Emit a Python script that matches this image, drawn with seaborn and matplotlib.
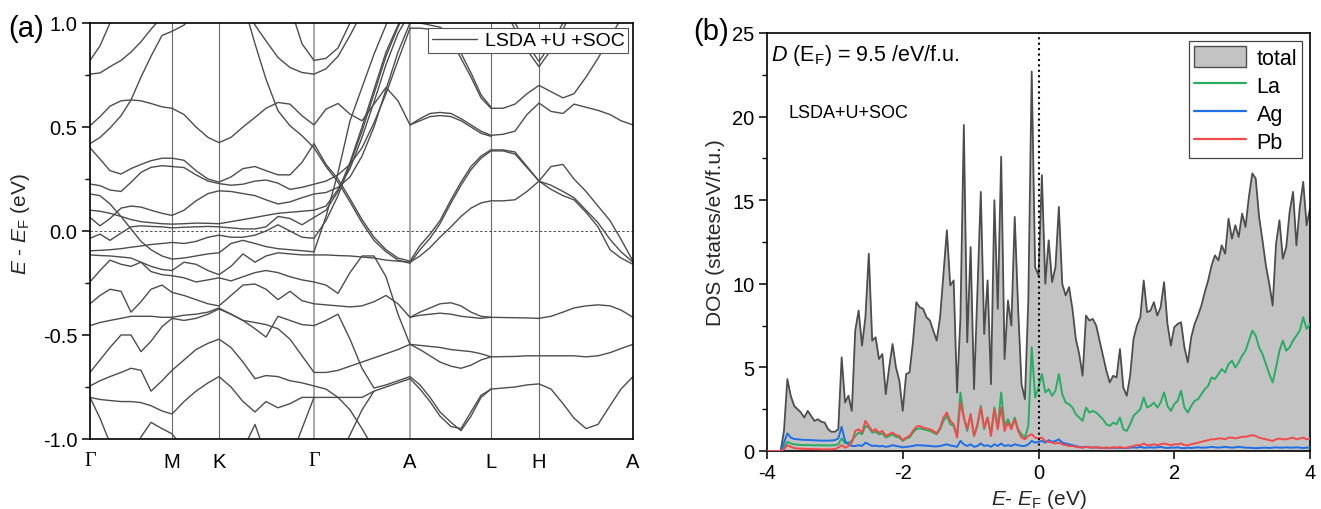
import numpy as np
import pandas as pd
import matplotlib
matplotlib.use("Agg")
import matplotlib.pyplot as plt
import seaborn as sns
from matplotlib.lines import Line2D
from matplotlib.patches import Patch
from matplotlib.ticker import MultipleLocator, FormatStrFormatter

N = float("nan")

# ---------------- panel (a): band structure ----------------
kpath = [0, 10, 20, 31, 41, 51, 61, 72, 82,
         94, 106, 118, 129,
         141, 153, 165, 176, 188, 200, 212, 224,
         236, 248, 260, 272, 284, 296, 308, 320,
         330, 340, 350, 361, 371, 381, 391, 401,
         413, 425, 437, 449,
         461, 473, 484, 496, 508, 520, 531, 543]
kpt_pos = [0, 82, 129, 224, 320, 401, 449, 543]
kpt_labels = ["Γ", "M", "K", "Γ", "A", "L", "H", "A"]
N4, N8, N9 = [N] * 4, [N] * 8, [N] * 9


def path(gm, mk, kg, ga, al, lh, ha):
    parts = [gm, mk, kg, ga, al, lh, ha]
    for p, s in zip(parts, [9, 4, 8, 8, 8, 4, 8]):
        assert len(p) == s, (p, s)
    return gm + mk + kg + ga + al + lh + ha


b01 = path([0.82, 0.89, 1.0, 1.12, 1.2, 1.2, 1.2, 1.2, 1.2], [1.2, 1.2, 1.2, 1.2],
           [1.2, 1.2, 1.2, 1.2, 1.2, 1.08, 0.90, 0.82], [0.83, 0.88, 1.0, 1.12, 1.2, N, N, N], N8, N4, N8)
b02 = path([0.754, 0.76, 0.79, 0.82, 0.86, 0.91, 0.97, 1.03, 1.08], [1.15, 1.2, 1.2, 1.2],
           [1.2, 1.1, 0.99, 0.914, 0.834, 0.786, 0.762, 0.754], [0.78, 0.84, 0.94, 1.05, 1.2, N, N, N], N8, N4, N8)
b03 = path([0.506, 0.55, 0.60, 0.626, 0.63, 0.626, 0.613, 0.597, 0.59], [0.56, 0.50, 0.45, 0.425],
           [0.45, 0.50, 0.546, 0.59, 0.618, 0.61, 0.554, 0.51], [0.586, 0.613, 0.562, 0.53, 0.61, 0.69, 0.626, 0.51],
           [0.54, 0.565, 0.57, 0.565, 0.54, 0.51, 0.48, 0.46], [0.465, 0.48, 0.56, 0.615],
           [0.575, 0.565, 0.61, 0.595, 0.58, 0.56, 0.53, 0.51])
b04 = path([0.42, 0.45, 0.495, 0.554, 0.63, 0.74, 0.84, 0.94, 0.96], [0.99, 1.05, 1.1, 1.15],
           [1.2, 1.1, 0.90, 0.73, 0.578, 0.506, 0.458, 0.40], [0.31, 0.235, 0.14, 0.04, -0.045, -0.10, -0.14, -0.155],
           [-0.09, -0.035, 0.035, 0.135, 0.22, 0.295, 0.35, 0.385], [0.385, 0.37, 0.305, 0.24],
           [0.20, 0.17, 0.15, 0.09, 0.02, -0.09, -0.13, -0.16])
b05 = path([0.40, 0.346, 0.29, 0.274, 0.30, 0.32, 0.338, 0.35, 0.35], [0.34, 0.29, 0.25, 0.235],
           [0.26, 0.30, 0.31, 0.29, 0.27, 0.27, 0.33, 0.42], [0.32, 0.25, 0.155, 0.055, -0.03, -0.09, -0.13, -0.145],
           [-0.07, -0.015, 0.05, 0.15, 0.235, 0.31, 0.36, 0.39], [0.39, 0.38, 0.31, 0.24],
           [0.31, 0.32, 0.25, 0.19, 0.12, 0.05, -0.04, -0.145])
b06 = path([0.226, 0.218, 0.197, 0.19, 0.234, 0.282, 0.306, 0.314, 0.31], [0.305, 0.27, 0.24, 0.228],
           [0.22, 0.225, 0.24, 0.245, 0.23, 0.20, 0.21, 0.225], [0.24, 0.27, 0.32, 0.40, 0.52, 0.66, 0.82, 0.975],
           [0.975, 0.97, 0.96, 0.92, 0.83, 0.74, 0.64, 0.59], [0.59, 0.61, 0.66, 0.70],
           [0.67, 0.64, 0.66, 0.74, 0.83, 0.93, 1.02, 1.1])
b07 = path([0.065, 0.025, 0.06, 0.11, 0.12, 0.115, 0.10, 0.085, 0.075], [0.10, 0.145, 0.18, 0.193],
           [0.19, 0.18, 0.17, 0.15, 0.13, 0.14, 0.16, 0.178], [0.185, 0.21, 0.26, 0.36, 0.50, 0.68, 0.86, 1.0],
           [1.0, 0.99, 0.98, 0.945, 0.855, 0.76, 0.655, 0.595], N4, N8)
b08 = path([0.178, 0.17, 0.13, 0.07, 0.01, -0.05, -0.09, -0.12, -0.135], [-0.13, -0.12, -0.11, -0.105],
           [-0.06, -0.045, -0.06, -0.075, -0.085, -0.09, -0.095, -0.10], [0.07, 0.28, 0.53, 0.69, 0.85, 0.99, 1.12, 1.2],
           N8, N4, N8)
b09 = path([0.10, 0.095, 0.085, 0.07, 0.055, 0.045, 0.04, 0.035, 0.033], [0.035, 0.038, 0.037, 0.035],
           [0.045, 0.055, 0.065, 0.075, 0.085, 0.09, 0.095, 0.10], [0.12, 0.20, 0.30, 0.45, 0.62, 0.80, 0.95, 1.05],
           N8, N4, N8)
b10 = path([-0.035, -0.015, -0.045, -0.01, 0.02, 0.025, 0.022, 0.02, 0.015], [0.018, 0.02, 0.022, 0.02],
           [0.015, 0.01, 0.01, 0.02, 0.07, 0.06, 0.03, 0.065], [0.10, 0.19, 0.33, 0.50, 0.68, 0.86, 0.99, 1.1],
           N8, N4, N8)
b11 = path([-0.095, -0.093, -0.09, -0.085, -0.078, -0.072, -0.065, -0.06, -0.055], [-0.06, -0.05, -0.03, -0.02],
           [-0.03, -0.03, -0.02, 0.0, 0.03, 0.0, -0.03, -0.035], [0.05, 0.17, 0.32, 0.48, 0.66, 0.84, 0.98, 1.1],
           N8, N4, N8)
b12 = path([-0.115, -0.118, -0.12, -0.125, -0.13, -0.15, -0.17, -0.185, -0.19], [-0.15, -0.16, -0.19, -0.21],
           [-0.17, -0.11, -0.15, -0.12, -0.105, -0.11, -0.115, -0.115],
           [-0.115, -0.118, -0.12, -0.125, -0.13, -0.14, -0.145, -0.15],
           [-0.12, -0.08, -0.03, 0.02, 0.07, 0.11, 0.135, 0.145], [0.145, 0.15, 0.19, 0.24],
           [0.22, 0.19, 0.16, 0.10, 0.04, -0.04, -0.10, -0.15])
b13 = path([-0.245, -0.19, -0.14, -0.16, -0.17, -0.15, -0.195, -0.21, -0.215], [-0.225, -0.245, -0.235, -0.225],
           [-0.24, -0.22, -0.20, -0.19, -0.20, -0.22, -0.235, -0.245],
           [-0.26, -0.30, -0.20, -0.12, -0.12, -0.22, -0.40, -0.545],
           [-0.55, -0.555, -0.56, -0.57, -0.575, -0.58, -0.59, -0.605], [-0.604, -0.603, -0.60, -0.60],
           [-0.60, -0.60, -0.60, -0.605, -0.60, -0.585, -0.565, -0.545])
b14 = path([-0.35, -0.31, -0.28, -0.29, -0.39, -0.34, -0.28, -0.26, -0.295], [-0.31, -0.33, -0.35, -0.36],
           [-0.31, -0.26, -0.255, -0.28, -0.33, -0.29, -0.335, -0.35],
           [-0.355, -0.36, -0.365, -0.36, -0.34, -0.31, -0.35, -0.415],
           [-0.39, -0.37, -0.35, -0.345, -0.36, -0.39, -0.41, -0.415], [-0.416, -0.417, -0.418, -0.42],
           [-0.41, -0.39, -0.37, -0.36, -0.355, -0.36, -0.38, -0.415])
b15 = path([-0.455, -0.44, -0.43, -0.42, -0.41, -0.41, -0.41, -0.415, -0.415], [-0.405, -0.40, -0.39, -0.37],
           [-0.40, -0.43, -0.47, -0.51, -0.41, -0.43, -0.45, -0.455],
           [-0.43, -0.40, -0.52, -0.66, -0.755, -0.74, -0.72, -0.70],
           [-0.74, -0.80, -0.87, -0.92, -0.96, -0.89, -0.80, -0.76], [-0.755, -0.75, -0.74, -0.735],
           [-0.76, -0.83, -0.90, -0.95, -0.93, -0.84, -0.76, -0.70])
b16 = path([-0.68, -0.62, -0.56, -0.50, -0.50, -0.58, -0.53, -0.46, -0.42], [-0.43, -0.42, -0.40, -0.375],
           [-0.40, -0.43, -0.44, -0.45, -0.47, -0.52, -0.60, -0.68],
           [-0.68, -0.67, -0.65, -0.63, -0.61, -0.59, -0.57, -0.545],
           [-0.57, -0.60, -0.63, -0.65, -0.66, -0.645, -0.62, -0.605], N4, N8)
b17 = path([-0.745, -0.72, -0.70, -0.68, -0.66, -0.67, -0.77, -0.72, -0.67], [-0.62, -0.57, -0.54, -0.52],
           [-0.56, -0.63, -0.71, -0.695, -0.70, -0.72, -0.73, -0.745],
           [-0.76, -0.80, -0.86, -0.95, -1.05, -1.2, N, N], N8, N4, N8)
b18 = path([-0.80, -0.81, -0.815, -0.82, -0.82, -0.825, -0.84, -0.865, -0.88], [-0.82, -0.77, -0.73, -0.70],
           [-0.75, -0.82, -0.87, -0.82, -0.85, -0.83, -0.80, -0.80],
           [-0.80, -0.80, -0.80, -0.80, -0.77, -0.75, -0.73, -0.71],
           [-0.76, -0.82, -0.89, -0.94, -0.95, -0.87, -0.79, -0.76], N4, N8)
b19 = path([-0.80, -0.90, -1.02, -1.2, N, N, N, N, N], N4, N8, N8, N8, N4, N8)
b20 = path([N, N, N, N, -1.1, -0.99, -0.92, -0.95, -0.975], [-1.05, -1.15, N, N], N8, N8, N8, N4, N8)
b21 = path(N9, N4, [-1.2, -1.05, -0.93, -1.08, -1.2, N, N, N], N8, N8, N4, N8)
b22 = path(N9, N4, [N, N, N, N, -1.2, -1.1, -0.95, -0.80], N8, N8, N4, N8)
b23 = path(N9, N4, N8, [N, -1.1, -0.98, -0.86, -0.77, N, N, N], N8, N4, N8)
b24 = path(N9, N4, N8, [N, N, N, N, N, N, N, 0.51],
           [0.53, 0.55, 0.555, 0.55, 0.53, 0.50, 0.47, 0.455], N4, N8)
b25 = path(N9, N4, N8, [N, N, N, N, N, N, N, -0.415],
           [-0.405, -0.40, -0.395, -0.40, -0.41, -0.415, -0.42, -0.415], N4, N8)
b26 = path(N9, N4, N8, N8, N8, [1.08, 0.97, 0.87, 0.79], [0.87, 0.97, 1.08, N, N, N, N, N])
b27 = path(N9, N4, N8, N8, N8, [1.12, 1.0, 0.90, 0.815], [0.90, 1.0, 1.12, N, N, N, N, N])

bands = [b01, b02, b03, b04, b05, b06, b07, b08, b09, b10, b11, b12, b13, b14,
         b15, b16, b17, b18, b19, b20, b21, b22, b23, b24, b25, b26, b27]

# ---------------- panel (b): DOS ----------------
dos_total = [0, 0, 0, 0, 0, 1.2, 4.3, 3.3, 2.7, 2.5,
             2.3, 2.0, 2.4, 2.1, 1.8, 1.9, 1.75, 1.7, 1.3, 1.15,
             1.15, 1.3, 5.6, 2.9, 3.3, 2.4, 7.2, 8.4, 6.3, 8.0,
             11.8, 6.6, 6.8, 5.5, 5.8, 3.4, 5.0, 6.4, 5.0, 4.2,
             2.4, 4.6, 4.7, 6.5, 8.9, 8.6, 8.5, 8.0, 7.8, 7.2,
             6.6, 8.0, 10.6, 13.2, 9.9, 10.2, 3.5, 8.0, 19.5, 6.5,
             12.2, 3.7, 9.5, 15.5, 7.0, 10.2, 4.0, 15.0, 8.5, 17.6,
             5.5, 9.0, 7.5, 14.0, 8.5, 4.0, 3.1, 9.0, 22.7, 11.0,
             10.5, 16.5, 10.0, 12.6, 10.1, 11.0, 14.6, 10.0, 9.3, 9.8,
             8.5, 6.7, 5.8, 4.5, 8.1, 7.8, 7.9, 7.5, 6.6, 5.7,
             4.8, 4.1, 4.5, 4.4, 6.1, 3.8, 3.3, 4.5, 6.7, 7.5,
             8.0, 10.2, 8.3, 8.4, 8.9, 8.1, 8.6, 10.1, 7.6, 6.3,
             7.4, 7.6, 7.7, 6.2, 5.3, 6.8, 7.6, 8.1, 8.7, 9.5,
             10.2, 11.1, 11.7, 11.4, 12.3, 11.8, 13.9, 12.7, 13.5, 12.8,
             14.2, 13.4, 15.2, 16.6, 16.3, 14.0, 12.6, 11.1, 10.0, 8.7,
             12.4, 13.8, 11.5, 12.2, 14.3, 15.5, 12.3, 14.6, 16.1, 13.5,
             14.5]
dos_La = [0, 0, 0, 0, 0, 0.25, 0.55, 0.45, 0.4, 0.38,
          0.36, 0.36, 0.35, 0.35, 0.34, 0.35, 0.34, 0.34, 0.33, 0.34,
          0.35, 0.4, 0.75, 0.45, 0.5, 0.6, 0.9, 1.1, 1.0, 1.5,
          1.4, 1.1, 1.15, 1.0, 1.05, 0.8, 0.9, 1.0, 0.85, 0.8,
          0.6, 0.75, 0.8, 1.1, 1.3, 1.35, 1.3, 1.25, 1.2, 1.1,
          1.0, 1.3, 1.8, 2.1, 1.6, 1.5, 0.9, 3.5, 2.0, 1.2,
          2.2, 0.9, 1.5, 2.7, 1.3, 2.0, 1.0, 2.6, 1.4, 3.5,
          1.5, 1.9, 1.4, 2.0, 1.3, 1.0, 0.8, 1.5, 6.2, 3.2,
          3.8, 4.6, 3.5, 3.7, 3.3, 3.6, 4.6, 3.4, 2.9, 2.8,
          2.6, 2.2, 2.0, 1.8, 2.6, 2.3, 2.4, 2.3, 2.1, 1.9,
          1.6, 1.5, 1.7, 1.6, 2.0, 1.3, 1.2, 1.6, 2.1, 2.3,
          2.5, 3.2, 2.6, 2.7, 2.9, 2.6, 2.9, 3.5, 2.7, 2.4,
          2.8, 3.0, 3.6, 2.6, 2.3, 2.7, 3.0, 3.1, 3.4, 3.7,
          3.9, 4.4, 4.3, 4.6, 4.9, 4.7, 5.2, 5.4, 5.0, 5.3,
          5.7, 6.0, 6.6, 7.2, 6.9, 6.2, 5.8, 5.2, 4.6, 4.1,
          5.0, 6.0, 6.6, 6.0, 6.2, 6.6, 6.9, 7.2, 8.0, 7.3,
          7.6]
dos_Ag = [0, 0, 0, 0, 0, 0.5, 1.05, 0.8, 0.72, 0.7,
          0.68, 0.66, 0.66, 0.65, 0.64, 0.63, 0.62, 0.62, 0.62, 0.63,
          0.65, 0.75, 1.45, 0.6, 0.4, 0.3, 0.3, 0.35, 0.3, 0.5,
          0.4, 0.3, 0.32, 0.28, 0.3, 0.25, 0.28, 0.35, 0.3, 0.27,
          0.22, 0.25, 0.27, 0.3, 0.35, 0.34, 0.33, 0.32, 0.3, 0.28,
          0.27, 0.3, 0.35, 0.4, 0.33, 0.3, 0.25, 0.6, 0.4, 0.3,
          0.4, 0.25, 0.3, 0.45, 0.3, 0.35, 0.25, 0.4, 0.3, 0.45,
          0.3, 0.35, 0.3, 0.4, 0.35, 0.3, 0.3, 0.4, 0.6, 0.5,
          0.55, 0.6, 0.5, 0.65, 0.55, 0.6, 0.7, 0.5, 0.45, 0.4,
          0.35, 0.3, 0.25, 0.22, 0.25, 0.22, 0.2, 0.22, 0.2, 0.18,
          0.2, 0.18, 0.2, 0.18, 0.2, 0.17, 0.18, 0.2, 0.22, 0.2,
          0.25, 0.2, 0.2, 0.22, 0.2, 0.22, 0.25, 0.2, 0.18, 0.2,
          0.2, 0.22, 0.18, 0.17, 0.2, 0.18, 0.2, 0.22, 0.2, 0.2,
          0.22, 0.25, 0.22, 0.2, 0.22, 0.25, 0.22, 0.2, 0.22, 0.25,
          0.22, 0.2, 0.2, 0.18, 0.17, 0.18, 0.2, 0.2, 0.18, 0.2,
          0.22, 0.2, 0.2, 0.22, 0.2, 0.2, 0.22, 0.2, 0.18, 0.2,
          0.2]
dos_Pb = [0, 0, 0, 0, 0, 0.1, 0.35, 0.25, 0.18, 0.15,
          0.14, 0.13, 0.12, 0.12, 0.11, 0.11, 0.1, 0.1, 0.1, 0.1,
          0.12, 0.2, 0.35, 0.2, 0.3, 0.5, 1.2, 1.3, 1.1, 1.8,
          1.5, 1.2, 1.3, 1.1, 1.2, 0.9, 1.0, 1.1, 0.95, 0.9,
          0.65, 0.8, 0.9, 1.2, 1.45, 1.5, 1.4, 1.35, 1.3, 1.2,
          1.05, 1.4, 2.0, 2.3, 1.8, 1.6, 0.8, 2.9, 2.0, 1.3,
          2.2, 0.9, 1.6, 2.6, 1.4, 2.0, 0.9, 2.5, 1.3, 2.6,
          1.2, 1.7, 1.3, 1.9, 1.2, 0.8, 0.7, 0.9, 1.0, 0.8,
          0.75, 0.8, 0.6, 0.55, 0.5, 0.45, 0.5, 0.4, 0.35, 0.3,
          0.3, 0.25, 0.22, 0.2, 0.25, 0.22, 0.2, 0.22, 0.2, 0.18,
          0.2, 0.18, 0.22, 0.2, 0.25, 0.18, 0.2, 0.25, 0.3, 0.35,
          0.35, 0.45, 0.35, 0.35, 0.4, 0.35, 0.4, 0.45, 0.4, 0.35,
          0.4, 0.4, 0.45, 0.35, 0.35, 0.4, 0.45, 0.5, 0.55, 0.6,
          0.65, 0.7, 0.7, 0.75, 0.75, 0.7, 0.8, 0.8, 0.75, 0.8,
          0.85, 0.85, 0.9, 0.95, 0.9, 0.8, 0.75, 0.7, 0.65, 0.6,
          0.7, 0.75, 0.7, 0.7, 0.75, 0.8, 0.7, 0.75, 0.8, 0.7,
          0.75]
for s in (dos_La, dos_Ag, dos_Pb):
    assert len(s) == len(dos_total)
energy = np.linspace(-4, 4, len(dos_total))

# ---------------- style ----------------
sns.set_theme(style="ticks")
plt.rcParams.update({
    "font.family": ["Liberation Sans", "DejaVu Sans"],
    "mathtext.fontset": "custom",
    "mathtext.rm": "Liberation Sans",
    "mathtext.it": "Liberation Sans:italic",
    "mathtext.bf": "Liberation Sans:bold",
    "axes.unicode_minus": False,
    "axes.edgecolor": "black",
    "axes.linewidth": 1.2,
    "xtick.color": "black",
    "ytick.color": "black",
    "text.color": "black",
})

fig = plt.figure(figsize=(13.21, 5.10), dpi=100)
W, H = 1321, 510
ax1 = fig.add_axes([90 / W, 1 - 440 / H, (633 - 90) / W, (440 - 24) / H])
ax2 = fig.add_axes([767 / W, 1 - 452 / H, (1310 - 767) / W, (452 - 34) / H])

# --- panel (a)
band_col = "#4d4d4d"
for i, p in enumerate(kpt_pos[1:-1]):
    light = kpt_labels[i + 1] in ("Γ", "A")
    ax1.axvline(p, color="#a0a0a0" if light else "#6a6a6a", lw=1.3 if light else 0.8, zorder=1)
ax1.axhline(0, color="#333333", lw=0.6, ls=(0, (3, 2.5)), zorder=1)

rows = []
for bi, vals in enumerate(bands):
    for k, e in zip(kpath, vals):
        rows.append((bi, k, e))
df = pd.DataFrame(rows, columns=["band", "k", "E"]).dropna()
sns.lineplot(data=df, x="k", y="E", units="band", estimator=None, sort=False,
             color=band_col, linewidth=1.0, ax=ax1, legend=False, zorder=2)

ax1.set_xlim(kpt_pos[0], kpt_pos[-1])
ax1.set_ylim(-1.0, 1.0)
ax1.set_xticks(kpt_pos)
ax1.set_xticklabels(kpt_labels)
for lbl in ax1.get_xticklabels():
    if lbl.get_text() == "Γ":
        lbl.set_fontfamily("Liberation Serif")
ax1.tick_params(axis="x", length=0, pad=9, labelsize=14.5)
ax1.yaxis.set_major_locator(MultipleLocator(0.5))
ax1.yaxis.set_minor_locator(MultipleLocator(0.25))
ax1.yaxis.set_major_formatter(FormatStrFormatter("%.1f"))
ax1.tick_params(axis="y", which="major", direction="out", length=6, width=1.1, pad=3, labelsize=14.5)
ax1.tick_params(axis="y", which="minor", direction="out", length=3.5, width=1.0)
ax1.set_xlabel("")
ax1.set_ylabel(r"$E$ - $E_\mathrm{F}$ (eV)", fontsize=15)
ax1.yaxis.set_label_coords(-0.106, 0.52)
leg1 = ax1.legend(handles=[Line2D([0], [0], color=band_col, lw=1.0)], labels=["LSDA +U +SOC"],
                  loc="upper right", fontsize=14, frameon=True, fancybox=False, framealpha=1,
                  edgecolor="#555555", borderaxespad=0.25, borderpad=0.2, handlelength=2.3,
                  handletextpad=0.4)
leg1.get_frame().set_linewidth(0.8)

# --- panel (b)
tot_face, tot_line = "#c3c3c3", "#4d4d4d"
c_La, c_Ag, c_Pb = "#27ad64", "#1e6fe6", "#f24a4a"
ax2.fill_between(energy, dos_total, 0, color=tot_face, lw=0, zorder=1)
sns.lineplot(x=energy, y=dos_total, color=tot_line, lw=1.3, ax=ax2, zorder=2)
sns.lineplot(x=energy, y=dos_La, color=c_La, lw=1.4, ax=ax2, zorder=3)
sns.lineplot(x=energy, y=dos_Ag, color=c_Ag, lw=1.4, ax=ax2, zorder=3)
sns.lineplot(x=energy, y=dos_Pb, color=c_Pb, lw=1.4, ax=ax2, zorder=4)
ax2.axvline(0, color="black", lw=1.5, ls=(0, (1, 1.6)), zorder=5)

ax2.set_xlim(-4, 4)
ax2.set_ylim(0, 25)
ax2.xaxis.set_major_locator(MultipleLocator(2))
ax2.yaxis.set_major_locator(MultipleLocator(5))
ax2.yaxis.set_minor_locator(MultipleLocator(2.5))
ax2.tick_params(axis="both", which="major", direction="out", length=6, width=1.1, pad=3, labelsize=14.5)
ax2.tick_params(axis="y", which="minor", direction="out", length=3.5, width=1.0)
ax2.set_xlabel(r"$E$- $E_\mathrm{F}$ (eV)", fontsize=15)
ax2.set_ylabel("DOS (states/eV/f.u.)", fontsize=15)
ax2.yaxis.set_label_coords(-0.078, 0.526)
ax2.xaxis.set_label_coords(0.5, -0.085)

ax2.text(0.008, 0.978, r"$D$ (E$_\mathrm{F}$) = 9.5 /eV/f.u.", transform=ax2.transAxes,
         ha="left", va="top", fontsize=15.5)
ax2.text(-3.69, 20.25, "LSDA+U+SOC", ha="left", va="center", fontsize=13)

handles = [Patch(facecolor=tot_face, edgecolor=tot_line, lw=1.0),
           Line2D([0], [0], color=c_La, lw=1.6),
           Line2D([0], [0], color=c_Ag, lw=1.6),
           Line2D([0], [0], color=c_Pb, lw=1.6)]
leg2 = ax2.legend(handles=handles, labels=["total", "La", "Ag", "Pb"], loc="upper right",
                  fontsize=15.5, frameon=True, fancybox=False, framealpha=1, edgecolor="#444444",
                  borderaxespad=0.35, borderpad=0.25, handlelength=2.4, handleheight=1.1,
                  handletextpad=0.5, labelspacing=0.25)
leg2.get_frame().set_linewidth(0.9)

fig.text(8 / W, 1 - 29 / H, "(a)", fontsize=21, ha="left", va="center")
fig.text(693 / W, 1 - 32 / H, "(b)", fontsize=21, ha="left", va="center")

fig.savefig("out.png", dpi=100)
